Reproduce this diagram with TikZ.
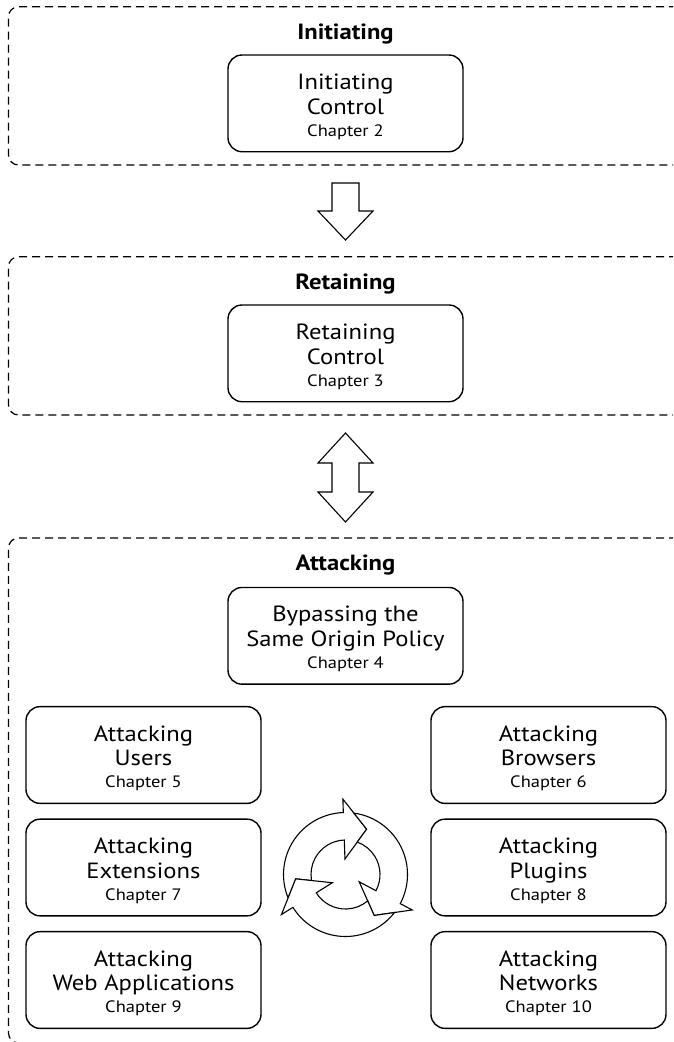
\documentclass[tikz,border=0pt]{standalone}
\usepackage{fontspec}
\setmainfont{PT Sans}[FakeStretch=1.12]
\newcommand\chap[1]{\\[-2.7pt]{\fontsize{16.5}{19}\selectfont #1}}
\newcommand\stagetop{\rule{0pt}{22.3pt}}
\begin{document}
\begin{tikzpicture}[x=1pt,y=1pt,
  cont/.style={draw, dash pattern=on 8pt off 5pt, rounded corners=10pt, line width=1.2pt, minimum width=691.5pt, inner sep=0pt},
  stage/.style={draw, rounded corners=14pt, line width=1.4pt, minimum width=235pt, minimum height=96.7pt, align=center, inner sep=0pt, font=\fontsize{22}{24.7}\selectfont},
  hdr/.style={font=\fontsize{22}{26}\selectfont\bfseries, anchor=base, inner sep=0pt},
  blk/.style={draw, line width=1.1pt, fill=white, line join=miter},
  cyc/.style={draw, line width=1.1pt, fill=white, line join=miter},
]
\useasboundingbox (0,0) rectangle (673,-1042);
\clip (0,0) rectangle (673,-1042);
% containers
\node[cont, minimum height=158.3pt] (initC) at (354.25,-85.85) {};
\node[cont, minimum height=158.3pt] (retC) at (354.25,-335.85) {};
\node[cont, minimum height=505pt] (attC) at (354.25,-790.5) {};
% headers
\node[hdr] (initH) at (345.5,-39.3) {Initiating};
\node[hdr] (retH) at (345.5,-289.3) {Retaining};
\node[hdr] (attH) at (345.5,-570.8) {Attacking};
% stages
\node[stage] (ic) at (345.5,-103.35) {\stagetop Initiating\\Control\chap{Chapter 2}};
\node[stage] (rc) at (345.5,-353.35) {\stagetop Retaining\\Control\chap{Chapter 3}};
\node[stage] (sop) at (345.5,-635.8) {\stagetop Bypassing the\\Same Origin Policy\chap{Chapter 4}};
\node[stage] (users) at (143.5,-755) {\stagetop Attacking\\Users\chap{Chapter 5}};
\node[stage] (browsers) at (548.5,-755) {\stagetop Attacking\\Browsers\chap{Chapter 6}};
\node[stage] (ext) at (143.5,-867.5) {\stagetop Attacking\\Extensions\chap{Chapter 7}};
\node[stage] (plugins) at (548.5,-867.5) {\stagetop Attacking\\Plugins\chap{Chapter 8}};
\node[stage] (webapps) at (143.5,-980) {\stagetop Attacking\\Web Applications\chap{Chapter 9}};
\node[stage] (networks) at (548.5,-980) {\stagetop Attacking\\Networks\chap{Chapter 10}};
% block arrows
\draw[blk] (332,-183) -- (359,-183) -- (359,-211) -- (373,-211) -- (345.5,-240) -- (318,-211) -- (332,-211) -- cycle;
\draw[blk] (345.5,-433) -- (373,-463) -- (359,-463) -- (359,-492) -- (373,-492) -- (345.5,-522)
  -- (318,-492) -- (332,-492) -- (332,-463) -- (318,-463) -- cycle;
% cycle
\begin{scope}[shift={(345.5,-874.5)}]
\foreach \B in {92,-28,212}{
  \pgfmathsetmacro\P{\B+120}
  \draw[cyc] (\P-9.8:62) arc[start angle=\P-9.8, end angle=\B, radius=62]
    -- (\B:75.5) -- (\B-27:50) -- (\B:15.5) -- (\B:34.5)
    arc[start angle=\B, end angle=\P-21.9, radius=34.5]
    -- (\P-27:50) -- cycle;
}
\end{scope}
\end{tikzpicture}
\end{document}
